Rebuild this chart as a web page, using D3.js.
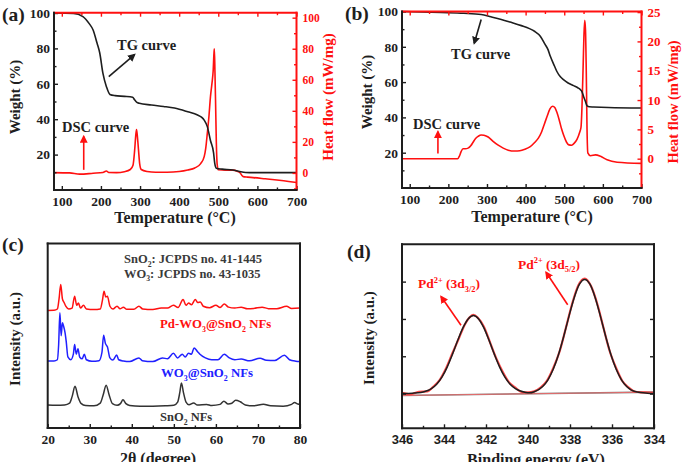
<!DOCTYPE html>
<html>
<head>
<meta charset="utf-8">
<script src="https://cdn.jsdelivr.net/npm/d3@7"></script>
<style>
  body { margin: 0; background: #fff; }
  svg { display: block; }
</style>
</head>
<body>
<svg id="fig" width="682" height="462"></svg>
<script>
// ---- data ----
// (a) TG / DSC of precursor fibres
const tgA = [[80,100],[130,99.8],[154,98],[170,94],[180,90.4],[190,83],[197,77.4],[205,66],[214,58.4],[223,54],[236,53.3],[260,52.9],[281,52.4],[286,51],[292,49.5],[298,49],[329,48],[360,47.2],[388,46.3],[422,44.2],[447,42.4],[457,41.2],[464,39.5],[472,35.8],[480,28],[488,21],[491,15],[495,12.3],[510,11.8],[537,11.3],[555,10.4],[570,9.9],[590,9.8],[700,9.8]];
const dscA = [[80,0.2],[120,0],[146,-0.8],[180,-0.2],[205,0.3],[214,1.2],[220,0.3],[240,0.2],[260,0.8],[275,2.2],[282,5],[286,14],[289,24],[291,28],[293,24],[296,15],[299,6],[303,2.2],[318,0.9],[340,0.4],[369,0.4],[400,0.9],[422,1.9],[440,3.2],[455,6],[464,10.5],[468,16],[472,25.6],[476,36],[480,49],[484,58],[487,66],[489,77],[490,80],[491.5,65],[493,47],[495,20],[497,6],[500,2],[520,1.8],[537,1.8],[550,0.9],[555,0.3],[560,-1.5],[564,-2.4],[575,-2.7],[589,-3],[620,-3.8],[650,-4.6],[680,-5.5],[700,-6.2]];

// (b) TG / DSC of Pd loaded fibres
const tgB = [[80,100],[181,99.4],[240,99],[285,98.3],[310,97],[337,95.5],[360,94],[389,92],[410,90.3],[423,88.8],[438,86],[450,81.5],[458,78.4],[464,74.6],[475,69],[481,66],[490,63],[498,61.4],[510,59.5],[524,58],[535,56.8],[542,55.7],[546,54.5],[550,51.9],[555,49],[559,46.6],[565,46],[576,45.9],[614,45.6],[700,45.3]];
const dscB = [[80,0],[224,0],[229,0.5],[233,1.2],[238,1.7],[244,1.7],[251,1.8],[258,2.2],[264,2.8],[270,3.4],[277,3.8],[285,4.05],[292,4.0],[303,3.7],[315,3.0],[329,2.3],[342,1.8],[355,1.45],[372,1.3],[385,1.35],[398,1.6],[411,2.0],[424,2.8],[433,3.5],[441,4.5],[448,5.8],[455,7.1],[463,8.5],[470,8.95],[476,8.7],[481,7.9],[487,6.6],[493,5.1],[499,3.9],[506,2.8],[512,2.35],[519,2.3],[526,2.65],[533,3.3],[540,4.5],[543.5,5.4],[546,9],[549,16],[551,21],[553,23.6],[555,22],[557,15],[559,5],[561,1.0],[568,0.5],[581,0.65],[594,0.4],[611,-0.2],[637,-0.6],[700,-0.8]];

// (c) XRD patterns (arbitrary intensity, already stacked)
const xrdSnO2 = [[20,12.5],[22,12.3],[24,12.5],[25.2,13.5],[25.8,17],[26.5,22.6],[27.2,17],[28,13.2],[29,12.2],[31,12],[32.5,13.5],[33.2,18],[33.9,23.2],[34.6,18],[35.4,13.2],[36.5,12.3],[37.3,13.2],[37.9,15.3],[38.6,13.2],[39.5,12.2],[42,11.8],[45,11.8],[48,12],[50,12.3],[50.9,14],[51.4,19],[51.8,24.4],[52.3,19],[52.9,14],[53.6,12.6],[54.7,13.6],[55.6,12.4],[57.8,12.8],[59,12.2],[61,12.8],[61.9,14.5],[62.9,13],[63.8,13.4],[64.7,15],[65.8,14.2],[67,12.5],[69,12],[71.3,12.9],[73,12],[76,11.8],[78,12.8],[78.7,13.8],[79.5,13],[80,12.8]];
const xrdWO3 = [[20,36.3],[21.5,36.3],[22.3,37],[22.6,45],[22.9,62.4],[23.2,50],[23.5,57],[23.8,55],[24.1,52],[24.4,47],[24.8,38.5],[25.5,37],[26.1,40],[26.4,45.2],[26.8,40],[27.2,43],[27.6,38.5],[28.2,37.5],[28.7,40],[29.2,37],[30.5,36.2],[32.2,36.5],[32.9,41],[33.3,50.3],[33.7,46],[34.2,44],[34.8,38],[35.5,36.8],[36.4,39.5],[36.9,37],[38,36.3],[39.5,36],[41.7,38],[42.5,36.5],[45,36],[47.3,38],[48.5,37.5],[49.9,40.5],[50.9,38],[52,40],[52.7,38.5],[53.5,40.5],[54.2,40],[54.8,43.4],[55.6,41.5],[56.2,40],[57.5,38],[59,37],[60.5,37],[62,40],[63.2,38],[64.5,37],[66,37.4],[68,36.4],[70.5,37.8],[72,36.7],[74,36.6],[76.3,39.4],[77.5,37],[79,36.2],[80,36]];
const xrdPd = [[20,63.7],[21.5,63.8],[22.3,64.5],[22.7,70],[23.1,77.8],[23.5,70],[23.9,68],[24.3,66],[25,64.5],[25.8,65],[26.4,71.4],[26.9,66.5],[27.3,67.8],[27.8,65],[28.5,66.5],[29.2,64.5],[31,64.2],[32.5,64.5],[33,69],[33.4,74.1],[33.8,71],[34.2,71.4],[34.8,66],[35.5,64.5],[36.5,66],[37.2,64.6],[38,65.5],[38.8,64.3],[40.5,64.3],[41.7,66],[42.6,64.5],[45,64.2],[47,65],[48.5,65],[49.9,66.5],[51,65.3],[52.2,69.6],[52.9,66.5],[53.5,67.8],[54.2,66.8],[55.1,69.6],[55.7,68],[56.3,68.3],[57,66],[58.5,65.2],[60,66.5],[61,65.3],[62,67.2],[63,65.5],[64.5,65],[66,65.5],[67.5,64.6],[69,64.8],[71,65.5],[72.5,64.7],[74.5,64.7],[76.8,66],[78,64.8],[80,65]];

// (d) Pd 3d XPS: fitted envelope, raw data, background
const xpsFit = [[346,0],[345.5,0.01],[345.1,0.03],[344.6,0.13],[344.35,0.25],[344.1,0.44],[343.85,0.71],[343.6,1.05],[343.35,1.42],[343.1,1.76],[342.85,2.0],[342.6,2.09],[342.35,2.0],[342.1,1.76],[341.85,1.42],[341.6,1.05],[341.35,0.71],[341.1,0.44],[340.85,0.25],[340.6,0.13],[340.1,0.03],[339.95,0.02],[339.7,0.05],[339.3,0.19],[339.05,0.37],[338.8,0.65],[338.55,1.04],[338.3,1.53],[338.05,2.07],[337.8,2.57],[337.55,2.93],[337.3,3.06],[337.05,2.93],[336.8,2.57],[336.55,2.07],[336.3,1.53],[336.05,1.04],[335.8,0.65],[335.55,0.37],[335.3,0.19],[334.8,0.04],[334.3,0.01],[334,0]];
const xpsRaw = [[346,0.02],[345.6,-0.02],[345.2,0.05],[344.8,0.06],[344.5,0.19],[344.2,0.37],[343.9,0.68],[343.6,1.08],[343.3,1.47],[343.0,1.86],[342.8,2.03],[342.6,2.11],[342.4,2.04],[342.1,1.79],[341.8,1.36],[341.5,0.93],[341.2,0.58],[340.9,0.3],[340.6,0.16],[340.3,0.04],[340.0,0.03],[339.7,0.06],[339.4,0.16],[339.1,0.34],[338.8,0.68],[338.5,1.12],[338.2,1.75],[337.9,2.4],[337.6,2.9],[337.3,3.08],[337.0,2.88],[336.7,2.4],[336.4,1.75],[336.1,1.12],[335.8,0.68],[335.5,0.33],[335.2,0.16],[334.9,0.05],[334.5,0.03],[334,0.01]];
const xpsBase = [[346,-0.05],[334,0.04]];

const tempTicks = [100,200,300,400,500,600,700];
const tempMinor = [150,250,350,450,550,650];
const weightTicks = [20,40,60,80,100];
const weightMinor = [10,30,50,70,90];
const heatTicksA = [0,20,40,60,80,100];
const heatMinorA = [-10,10,30,50,70,90];
const heatTicksB = [0,5,10,15,20,25];
const heatMinorB = [-2.5,2.5,7.5,12.5,17.5,22.5];
const thetaTicks = [20,30,40,50,60,70,80];
const thetaMinor = [25,35,45,55,65,75];
const beTicks = [346,344,342,340,338,336,334];
const beMinor = [345,343,341,339,337,335];
const intTicks = [0,1,2,3];

// ---- drawing ----
const SERIF = "'Liberation Serif', 'Times New Roman', serif";
const SANS = "'Liberation Sans', Arial, sans-serif";
const RED = "#ff1010", BLK = "#1e1e1e", BLUE = "#2020ff";
const svg = d3.select("#fig");

const defs = svg.append("defs");
[["ahRed", RED], ["ahBlk", BLK]].forEach(([id, c]) => {
  defs.append("marker").attr("id", id).attr("viewBox", "0 0 10 10")
    .attr("refX", 8).attr("refY", 5).attr("markerWidth", 5).attr("markerHeight", 5)
    .attr("orient", "auto")
    .append("path").attr("d", "M0,0L10,5L0,10z").attr("fill", c);
});

function tickSet(axisFn, scale, values, size, tr, color) {
  const s = svg.append("g").attr("transform", tr)
    .call(axisFn(scale).tickValues(values).tickSize(size).tickFormat(""));
  s.select(".domain").remove();
  s.selectAll(".tick line").attr("stroke", color).attr("stroke-width", 1.4);
}
function tickLabels(axisFn, scale, values, pad, tr, color, size, family) {
  const s = svg.append("g").attr("transform", tr)
    .call(axisFn(scale).tickValues(values).tickSize(0).tickPadding(pad));
  s.select(".domain").remove();
  s.selectAll("text").attr("fill", color)
    .style("font-family", family).style("font-size", size + "px").style("font-weight", "bold");
}
function edge(x1, y1, x2, y2, c) {
  svg.append("line").attr("x1", x1).attr("y1", y1).attr("x2", x2).attr("y2", y2)
    .attr("stroke", c).attr("stroke-width", 2).attr("stroke-linecap", "square");
}
function rich(x, y, parts, size, color, anchor, rot) {
  const t = svg.append("text").attr("x", x).attr("y", y)
    .attr("text-anchor", anchor || "start").attr("fill", color)
    .style("font-family", SERIF).style("font-weight", "bold").style("font-size", size + "px");
  if (rot) t.attr("transform", `rotate(${rot},${x},${y})`);
  let shift = 0;
  parts.forEach(([s, k]) => {
    const target = k === "sub" ? size * 0.28 : k === "sup" ? -size * 0.38 : 0;
    const sp = t.append("tspan").attr("dy", target - shift).text(s);
    if (k) sp.style("font-size", (size * 0.62) + "px");
    shift = target;
  });
  return t;
}
function curve(data, x, y, color, w) {
  svg.append("path").datum(data)
    .attr("d", d3.line().x(d => x(d[0])).y(d => y(d[1])).curve(d3.curveMonotoneX))
    .attr("fill", "none").attr("stroke", color).attr("stroke-width", w || 1.6)
    .attr("stroke-linejoin", "round");
}
function arrow(x1, y1, x2, y2, color, id) {
  svg.append("line").attr("x1", x1).attr("y1", y1).attr("x2", x2).attr("y2", y2)
    .attr("stroke", color).attr("stroke-width", 1.6).attr("marker-end", `url(#${id})`);
}

// ===== panel (a) =====
{
  const L = 54, R = 296.5, T = 12.7, B = 190;
  const x = d3.scaleLinear().domain([80, 700]).range([L, R]);
  const yW = d3.scaleLinear().domain([0, 100]).range([B, 13]);
  const yH = d3.scaleLinear().domain([-11, 103.2]).range([B, T]);

  curve(dscA, x, yH, RED);
  curve(tgA, x, yW, BLK);

  tickSet(d3.axisBottom, x, tempTicks, -4, `translate(0,${B})`, BLK);
  tickSet(d3.axisBottom, x, tempMinor, -2.5, `translate(0,${B})`, BLK);
  tickSet(d3.axisTop, x, tempTicks, -4, `translate(0,${T})`, RED);
  tickSet(d3.axisTop, x, tempMinor, -2.5, `translate(0,${T})`, RED);
  tickSet(d3.axisLeft, yW, weightTicks, -4, `translate(${L},0)`, BLK);
  tickSet(d3.axisLeft, yW, weightMinor, -2.5, `translate(${L},0)`, BLK);
  tickSet(d3.axisRight, yH, heatTicksA, -4, `translate(${R},0)`, RED);
  tickSet(d3.axisRight, yH, heatMinorA, -2.5, `translate(${R},0)`, RED);

  edge(L, T, R, T, RED); edge(R, T, R, B, RED);
  edge(L, T, L, B, BLK); edge(L, B, R, B, BLK);

  tickLabels(d3.axisBottom, x, tempTicks, 6, `translate(0,${B})`, BLK, 13.5, SERIF);
  tickLabels(d3.axisLeft, yW, weightTicks, 4, `translate(${L},0)`, BLK, 13.5, SERIF);
  tickLabels(d3.axisRight, yH, heatTicksA, 6, `translate(${R},0)`, RED, 11.5, SERIF);

  rich(175, 223, [["Temperature (°C)", ""]], 16, BLK, "middle");
  rich(20, 97, [["Weight (%)", ""]], 15, BLK, "middle", -90);
  rich(333, 97, [["Heat flow (mW/mg)", ""]], 15, RED, "middle", -90);
  rich(2, 21, [["(a)", ""]], 19.5, BLK);

  rich(117, 49.5, [["TG curve", ""]], 14.5, BLK);
  arrow(x(220), yW(64), x(286), yW(76.5), BLK, "ahBlk");
  rich(62, 132, [["DSC curve", ""]], 14.5, BLK);
  arrow(x(156), yH(2), x(156), yH(23.5), RED, "ahRed");
}

// ===== panel (b) =====
{
  const L = 402, R = 641.5, T = 11.5, B = 188;
  const x = d3.scaleLinear().domain([80, 700]).range([L, R]);
  const yW = d3.scaleLinear().domain([0, 100]).range([B, T]);
  const yH = d3.scaleLinear().domain([-5, 25.1]).range([B, T]);

  curve(dscB, x, yH, RED);
  curve(tgB, x, yW, BLK);

  tickSet(d3.axisBottom, x, tempTicks, -4, `translate(0,${B})`, BLK);
  tickSet(d3.axisBottom, x, tempMinor, -2.5, `translate(0,${B})`, BLK);
  tickSet(d3.axisTop, x, tempTicks, -4, `translate(0,${T})`, RED);
  tickSet(d3.axisTop, x, tempMinor, -2.5, `translate(0,${T})`, RED);
  tickSet(d3.axisLeft, yW, weightTicks, -4, `translate(${L},0)`, BLK);
  tickSet(d3.axisLeft, yW, weightMinor, -2.5, `translate(${L},0)`, BLK);
  tickSet(d3.axisRight, yH, heatTicksB, -4, `translate(${R},0)`, RED);
  tickSet(d3.axisRight, yH, heatMinorB, -2.5, `translate(${R},0)`, RED);

  edge(L, T, R, T, RED); edge(R, T, R, B, RED);
  edge(L, T, L, B, BLK); edge(L, B, R, B, BLK);

  tickLabels(d3.axisBottom, x, tempTicks, 6, `translate(0,${B})`, BLK, 13.5, SERIF);
  tickLabels(d3.axisLeft, yW, weightTicks, 4, `translate(${L},0)`, BLK, 13.5, SERIF);
  tickLabels(d3.axisRight, yH, heatTicksB, 6, `translate(${R},0)`, RED, 13, SERIF);

  rich(532, 222, [["Temperature (°C)", ""]], 16, BLK, "middle");
  rich(372, 92, [["Weight (%)", ""]], 15, BLK, "middle", -90);
  rich(678, 102, [["Heat flow (mW/mg)", ""]], 14.5, RED, "middle", -90);
  rich(345, 20, [["(b)", ""]], 19.5, BLK);

  rich(451, 58.5, [["TG curve", ""]], 14.5, BLK);
  arrow(x(285), yW(95.5), x(267), yW(82), BLK, "ahBlk");
  rich(413, 128.5, [["DSC curve", ""]], 14.5, BLK);
  arrow(x(173), yH(0.9), x(173), yH(4.6), RED, "ahRed");
}

// ===== panel (c) =====
{
  const L = 47.7, R = 300, T = 243.5, B = 428;
  const x = d3.scaleLinear().domain([20, 80]).range([L, R]);
  const y = d3.scaleLinear().domain([0, 100]).range([B, T]);

  curve(xrdSnO2, x, y, "#333", 1.5);
  curve(xrdWO3, x, y, BLUE, 1.5);
  curve(xrdPd, x, y, RED, 1.5);

  tickSet(d3.axisBottom, x, thetaTicks, -4, `translate(0,${B})`, BLK);
  tickSet(d3.axisBottom, x, thetaMinor, -2.5, `translate(0,${B})`, BLK);
  edge(L, T, R, T, BLK); edge(R, T, R, B, BLK);
  edge(L, T, L, B, BLK); edge(L, B, R, B, BLK);

  tickLabels(d3.axisBottom, x, thetaTicks, 6, `translate(0,${B})`, BLK, 13.5, SERIF);

  rich(158, 464, [["2θ (degree)", ""]], 16, BLK, "middle");
  rich(20, 339, [["Intensity (a.u.)", ""]], 15, BLK, "middle", -90);
  rich(2, 251, [["(c)", ""]], 19.5, BLK);

  rich(124, 263, [["SnO", ""], ["2", "sub"], [": JCPDS no. 41-1445", ""]], 12.5, "#3a3a3a");
  rich(124, 277.5, [["WO", ""], ["3", "sub"], [": JCPDS no. 43-1035", ""]], 12.5, "#3a3a3a");
  rich(160, 328, [["Pd-WO", ""], ["3", "sub"], ["@SnO", ""], ["2", "sub"], [" NFs", ""]], 12.8, RED);
  rich(161, 377, [["WO", ""], ["3", "sub"], ["@SnO", ""], ["2", "sub"], [" NFs", ""]], 12.8, BLUE);
  rich(160, 421, [["SnO", ""], ["2", "sub"], [" NFs", ""]], 12.5, "#333");
}

// ===== panel (d) =====
{
  const L = 402, R = 654, T = 244.3, B = 428.3;
  const x = d3.scaleLinear().domain([346, 334]).range([L, R]);
  const y = d3.scaleLinear().domain([-0.93, 4]).range([B, T]);

  curve(xpsBase, x, y, "#777", 1.6);
  curve(xpsBase, x, y, "#ff6a6a", 0.8);
  curve(xpsRaw, x, y, "#ff4a4a", 2.2);
  curve(xpsFit, x, y, BLK, 1.5);

  tickSet(d3.axisBottom, x, beTicks, -4, `translate(0,${B})`, BLK);
  tickSet(d3.axisBottom, x, beMinor, -2.5, `translate(0,${B})`, BLK);
  tickSet(d3.axisLeft, y, intTicks, -4, `translate(${L},0)`, BLK);
  tickSet(d3.axisRight, y, intTicks, -4, `translate(${R},0)`, BLK);
  edge(L, T, R, T, BLK); edge(R, T, R, B, BLK);
  edge(L, T, L, B, BLK); edge(L, B, R, B, BLK);

  tickLabels(d3.axisBottom, x, beTicks, 6, `translate(0,${B})`, BLK, 13, SANS);

  rich(536, 465, [["Binding energy (eV)", ""]], 16, BLK, "middle");
  rich(374, 338, [["Intensity (a.u.)", ""]], 15, BLK, "middle", -90);
  rich(347, 258, [["(d)", ""]], 19.5, BLK);

  rich(418, 288, [["Pd", ""], ["2+", "sup"], [" (3d", ""], ["3/2", "sub"], [")", ""]], 13.5, RED);
  arrow(x(343.19), y(1.83), x(344.14), y(2.6), RED, "ahRed");
  rich(518, 268.5, [["Pd", ""], ["2+", "sup"], [" (3d", ""], ["5/2", "sub"], [")", ""]], 13.5, RED);
  arrow(x(338.11), y(2.38), x(339.14), y(3.25), RED, "ahRed");
}
</script>
</body>
</html>
